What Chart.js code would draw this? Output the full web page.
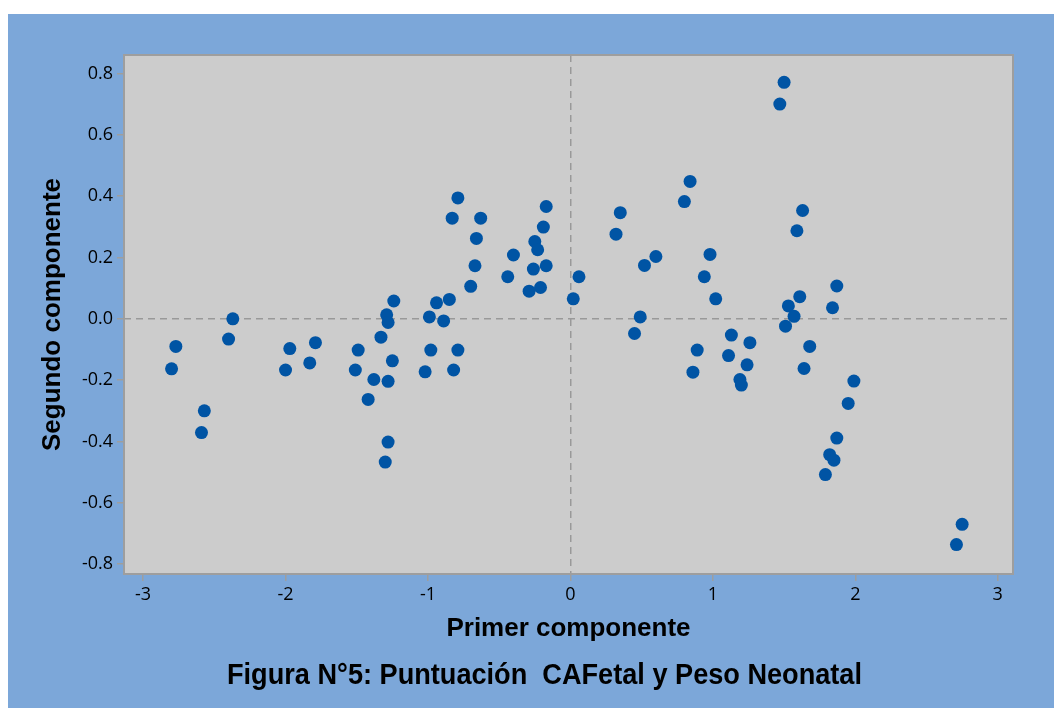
<!DOCTYPE html>
<html>
<head>
<meta charset="utf-8">
<script src="https://cdn.jsdelivr.net/npm/chart.js@4"></script>
<style>
html, body { margin: 0; padding: 0; background: #ffffff; }
#wrap { position: absolute; left: 8px; top: 14px; width: 1046px; height: 694px; background: #7ca7d9; }
</style>
</head>
<body>
<div id="wrap"><canvas id="myChart" width="1046" height="694"></canvas></div>
<script>
// puntuaciones de componentes principales
const primerComp = [
  -2.80, -2.77, -2.59, -2.57, -2.40, -2.37, -2.00, -1.97, -1.83, -1.79,
  -1.51, -1.49, -1.42, -1.38, -1.33, -1.30, -1.29, -1.28, -1.28, -1.28,
  -1.25, -1.24, -1.02, -0.99, -0.98, -0.94, -0.89, -0.85, -0.83, -0.82,
  -0.79, -0.79, -0.70, -0.67, -0.66, -0.63, -0.44, -0.40, -0.29, -0.26,
  -0.25, -0.23, -0.21, -0.19, -0.17, -0.17, 0.02, 0.06,
  0.32, 0.35, 0.45, 0.49, 0.52, 0.60, 0.80, 0.84, 0.86, 0.89,
  0.94, 0.98, 1.02, 1.11, 1.13, 1.19, 1.20, 1.24, 1.26, 1.47,
  1.50, 1.51, 1.53, 1.57, 1.59, 1.61, 1.63, 1.64, 1.68, 1.79,
  1.82, 1.84, 1.85, 1.87, 1.87, 1.95, 1.99, 2.71, 2.75
];
const segundoComp = [
  -0.163, -0.090, -0.371, -0.300, -0.066, 0.000, -0.167, -0.097, -0.144, -0.078,
  -0.167, -0.102, -0.263, -0.198, -0.060, -0.467, 0.013, -0.012, -0.204, -0.402,
  -0.137, 0.058, -0.173, 0.006, -0.102, 0.052, -0.007, 0.063, 0.328, -0.167,
  0.394, -0.102, 0.106, 0.173, 0.262, 0.328, 0.137, 0.208, 0.090, 0.162,
  0.252, 0.225, 0.102, 0.299, 0.366, 0.173, 0.065, 0.137,
  0.276, 0.346, -0.048, 0.006, 0.174, 0.203, 0.382, 0.448, -0.174, -0.102,
  0.137, 0.210, 0.065, -0.120, -0.053, -0.198, -0.216, -0.150, -0.078, 0.700,
  0.771, -0.024, 0.042, 0.008, 0.287, 0.072, 0.353, -0.162, -0.090, -0.508,
  -0.443, 0.036, -0.461, 0.107, -0.389, -0.276, -0.203, -0.736, -0.670
];
const xTicks = [-3, -2, -1, 0, 1, 2, 3];
const yTicks = [-0.8, -0.6, -0.4, -0.2, 0, 0.2, 0.4, 0.6, 0.8];
const figTitle = "Figura N°5: Puntuación  CAFetal y Peso Neonatal";

const points = primerComp.map((x, i) => ({ x: x, y: segundoComp[i] }));

const tickFont = { family: "'Open Sans', 'Liberation Sans', sans-serif", size: 18 };
const axisTitleFont = { family: "'Liberation Sans', Arial, sans-serif", size: 26, weight: "bold" };
const zeroLine = c => (c.tick && c.tick.value === 0) ? "#999999" : "rgba(0,0,0,0)";

const plotFrame = {
  id: "plotFrame",
  beforeDraw(chart) {
    const { ctx, chartArea: a } = chart;
    ctx.save();
    ctx.fillStyle = "#cccccc";
    ctx.fillRect(a.left, a.top, a.width, a.height);
    ctx.restore();
  },
  beforeDatasetsDraw(chart) {
    const { ctx, chartArea: a } = chart;
    ctx.save();
    ctx.strokeStyle = "#9e9e9e";
    ctx.lineWidth = 2;
    ctx.strokeRect(a.left, a.top, a.width, a.height);
    ctx.restore();
  },
  afterDraw(chart) {
    const ctx = chart.ctx;
    ctx.save();
    ctx.font = "bold 29px 'Liberation Sans', Arial, sans-serif";
    ctx.fillStyle = "#000000";
    ctx.textAlign = "center";
    ctx.textBaseline = "alphabetic";
    const w = ctx.measureText(figTitle).width;
    ctx.translate(536.5, 670);
    ctx.scale(Math.min(1, 635 / w), 1);
    ctx.fillText(figTitle, 0, 0);
    ctx.restore();
  }
};

new Chart("myChart", {
  type: "scatter",
  data: {
    datasets: [{
      data: points,
      backgroundColor: "#0054a4",
      borderColor: "#0054a4",
      borderWidth: 0,
      pointRadius: 6.5,
      pointHoverRadius: 6.5
    }]
  },
  options: {
    responsive: false,
    animation: false,
    layout: { padding: { top: 41, right: 41, bottom: 48, left: 0 } },
    plugins: {
      legend: { display: false },
      tooltip: { enabled: false }
    },
    scales: {
      x: {
        type: "linear",
        min: -3.134,
        max: 3.107,
        afterFit: s => { s.height = 86; },
        afterBuildTicks: s => { s.ticks = xTicks.map(v => ({ value: v })); },
        ticks: { font: tickFont, color: "#000000", padding: 3, maxRotation: 0 },
        grid: { color: zeroLine, lineWidth: 1.5, tickColor: "#9e9e9e", tickLength: 7, tickBorderDash: [], tickWidth: 1.5 },
        border: { display: false, dash: [7, 5] },
        title: { display: true, text: "Primer componente", font: axisTitleFont, color: "#000000", padding: { top: 0, bottom: 16 } }
      },
      y: {
        type: "linear",
        min: -0.832,
        max: 0.86,
        afterFit: s => { s.width = 116; },
        afterBuildTicks: s => { s.ticks = yTicks.map(v => ({ value: v })); },
        ticks: { font: tickFont, color: "#000000", padding: 4, callback: v => v.toFixed(1) },
        grid: { color: zeroLine, lineWidth: 1.5, tickColor: "#9e9e9e", tickLength: 7, tickBorderDash: [], tickWidth: 1.5 },
        border: { display: false, dash: [7, 5] },
        title: { display: true, text: "Segundo componente", font: axisTitleFont, color: "#000000", padding: { top: 29, bottom: 0 } }
      }
    }
  },
  plugins: [plotFrame]
});
</script>
</body>
</html>
